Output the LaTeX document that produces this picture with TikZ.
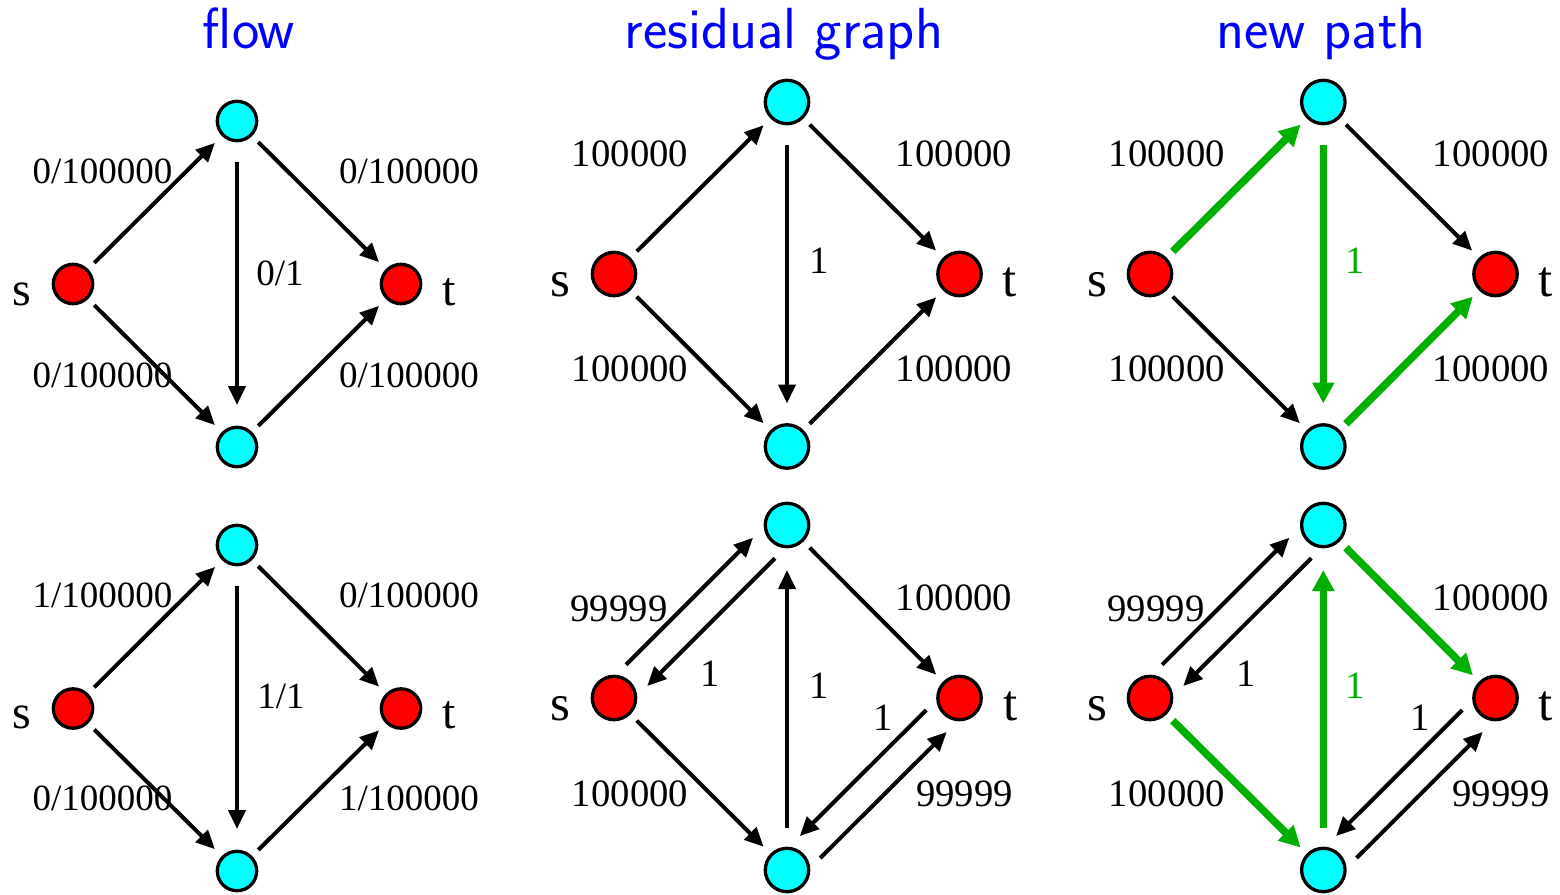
\documentclass[tikz,border=0pt]{standalone}
\usepackage{fontspec}
\setmainfont{Liberation Serif}
\usetikzlibrary{arrows.meta,calc}
\definecolor{ncyan}{RGB}{0,255,255}
\definecolor{nred}{RGB}{255,0,0}
\definecolor{pgreen}{RGB}{0,176,0}
% straight edge between named nodes, with gaps at both ends
\newcommand\myE[5][arr]{\draw[#1] ($(#2)!#4!(#3)$) -- ($(#3)!#5!(#2)$);}
% edge of a parallel pair, shifted sideways by #6
\newcommand\myP[6][arr]{\draw[#1] ($(#2)!#4!(#3)!#6!90:(#3)$) -- ($(#3)!#5!(#2)!#6!-90:(#2)$);}
\begin{document}
\begin{tikzpicture}[x=1pt,y=-1pt,
  vb/.style={circle,draw=black,line width=3.3pt,minimum size=43.4pt,inner sep=0pt},
  vs/.style={circle,draw=black,line width=3.3pt,minimum size=39.4pt,inner sep=0pt},
  src/.style={fill=nred}, mid/.style={fill=ncyan},
  arr/.style={draw=black,line width=4pt,-{Triangle[length=19pt,width=17pt]}},
  garr/.style={draw=pgreen,line width=7.5pt,-{Triangle[length=21pt,width=21pt]}},
  lab/.style={anchor=base,inner sep=0pt,font=\fontsize{38.7}{42}\selectfont},
  labs/.style={anchor=base,inner sep=0pt,font=\fontsize{37}{40}\selectfont},
  glab/.style={lab,text=pgreen},
  stl/.style={anchor=base,inner sep=0pt,font=\fontsize{51}{56}\selectfont},
  stls/.style={anchor=base,inner sep=0pt,font=\fontsize{48}{52}\selectfont},
  ttl/.style={anchor=base,inner sep=0pt,text=blue,font=\sffamily\fontsize{58}{64}\selectfont}]
\useasboundingbox (0,0) rectangle (1560,894);

% titles
\node[ttl] (T1) at (249,48) {flow};
\node[ttl] (T2) at (784,48) {residual graph};
\node[ttl] (T3) at (1321,48) {new path};

% ---------- column 1, row 1 ----------
\node[vs,src] (s1) at (73,284) {};
\node[vs,mid] (a1) at (237,121) {};
\node[vs,mid] (b1) at (237,447) {};
\node[vs,src] (t1) at (401,284) {};
\myE{s1}{a1}{30pt}{31pt}
\myE{a1}{t1}{30pt}{31pt}
\myE{s1}{b1}{30pt}{31pt}
\myE{b1}{t1}{30pt}{31pt}
\myE{a1}{b1}{41pt}{42pt}
\node[labs] (l11) at (102.5,183.3) {0/100000};
\node[labs] (l12) at (409,183.3) {0/100000};
\node[labs] (l13) at (102.5,387.7) {0/100000};
\node[labs] (l14) at (409,387.7) {0/100000};
\node[labs] (l15) at (280,285) {0/1};
\node[stls] (ns1) at (22,305) {s};
\node[stls] (nt1) at (449,305) {t};

% ---------- column 1, row 2 ----------
\node[vs,src] (s2) at (73,708.5) {};
\node[vs,mid] (a2) at (237,545) {};
\node[vs,mid] (b2) at (237,871) {};
\node[vs,src] (t2) at (401,708.5) {};
\myE{s2}{a2}{30pt}{31pt}
\myE{a2}{t2}{30pt}{31pt}
\myE{s2}{b2}{30pt}{31pt}
\myE{b2}{t2}{30pt}{31pt}
\myE{a2}{b2}{41pt}{42pt}
\node[labs] (l21) at (102.5,607) {1/100000};
\node[labs] (l22) at (409,607) {0/100000};
\node[labs] (l23) at (102.5,810) {0/100000};
\node[labs] (l24) at (409,810) {1/100000};
\node[labs] (l25) at (281,708.5) {1/1};
\node[stls] (ns2) at (22,728.5) {s};
\node[stls] (nt2) at (449,728.5) {t};

% ---------- column 2, row 1 ----------
\node[vb,src] (s3) at (614,274) {};
\node[vb,mid] (a3) at (787,102) {};
\node[vb,mid] (b3) at (787,446.5) {};
\node[vb,src] (t3) at (959.5,274) {};
\myE{s3}{a3}{32pt}{33pt}
\myE{a3}{t3}{32pt}{33pt}
\myE{s3}{b3}{32pt}{33pt}
\myE{b3}{t3}{32pt}{33pt}
\myE{a3}{b3}{43pt}{43pt}
\node[lab] (l31) at (630,166.7) {100000};
\node[lab] (l32) at (954,166.7) {100000};
\node[lab] (l33) at (630,381.7) {100000};
\node[lab] (l34) at (954,381.7) {100000};
\node[lab] (l35) at (819,273) {1};
\node[stl] (ns3) at (560,296.7) {s};
\node[stl] (nt3) at (1010,296.7) {t};

% ---------- column 2, row 2 ----------
\node[vb,src] (s4) at (614,698) {};
\node[vb,mid] (a4) at (787,525) {};
\node[vb,mid] (b4) at (787,870) {};
\node[vb,src] (t4) at (959.5,698) {};
\myP{s4}{a4}{32pt}{33pt}{15pt}
\myP{a4}{s4}{32pt}{32pt}{15pt}
\myE{a4}{t4}{32pt}{33pt}
\myE{s4}{b4}{32pt}{33pt}
\myE{b4}{a4}{42pt}{45pt}
\myP{t4}{b4}{32pt}{33pt}{-15pt}
\myP{b4}{t4}{32pt}{33pt}{-15pt}
\node[lab] (l41) at (619,621.7) {99999};
\node[lab] (l42) at (710,686.7) {1};
\node[lab] (l43) at (954,610) {100000};
\node[lab] (l44) at (819,698.3) {1};
\node[lab] (l45) at (883,730) {1};
\node[lab] (l46) at (630,806.7) {100000};
\node[lab] (l47) at (964.5,806.7) {99999};
\node[stl] (ns4) at (560,720) {s};
\node[stl] (nt4) at (1011,720) {t};

% ---------- column 3, row 1 ----------
\node[vb,src] (s5) at (1150,274) {};
\node[vb,mid] (a5) at (1323.3,102) {};
\node[vb,mid] (b5) at (1323.3,446.5) {};
\node[vb,src] (t5) at (1495.5,274) {};
\myE[garr]{s5}{a5}{32pt}{32pt}
\myE{a5}{t5}{32pt}{33pt}
\myE{s5}{b5}{32pt}{33pt}
\myE[garr]{b5}{t5}{32pt}{32pt}
\myE[garr]{a5}{b5}{43pt}{43pt}
\node[lab] (l51) at (1166.7,166.7) {100000};
\node[lab] (l52) at (1491,166.7) {100000};
\node[lab] (l53) at (1166.7,381.7) {100000};
\node[lab] (l54) at (1491,381.7) {100000};
\node[glab] (l55) at (1355.5,273.3) {1};
\node[stl] (ns5) at (1097,296.7) {s};
\node[stl] (nt5) at (1546,296.7) {t};

% ---------- column 3, row 2 ----------
\node[vb,src] (s6) at (1150,698) {};
\node[vb,mid] (a6) at (1323.3,525) {};
\node[vb,mid] (b6) at (1323.3,870) {};
\node[vb,src] (t6) at (1495.5,698) {};
\myP{s6}{a6}{32pt}{33pt}{15pt}
\myP{a6}{s6}{32pt}{32pt}{15pt}
\myE[garr]{a6}{t6}{32pt}{32pt}
\myE[garr]{s6}{b6}{32pt}{32pt}
\myE[garr]{b6}{a6}{42pt}{45pt}
\myP{t6}{b6}{32pt}{33pt}{-15pt}
\myP{b6}{t6}{32pt}{33pt}{-15pt}
\node[lab] (l61) at (1156,621.7) {99999};
\node[lab] (l62) at (1246.5,686.7) {1};
\node[lab] (l63) at (1491,610) {100000};
\node[glab] (l64) at (1355.5,698.3) {1};
\node[lab] (l65) at (1420,730) {1};
\node[lab] (l66) at (1167,806.7) {100000};
\node[lab] (l67) at (1501,806.7) {99999};
\node[stl] (ns6) at (1097,720) {s};
\node[stl] (nt6) at (1546,720) {t};
\end{tikzpicture}
\end{document}
